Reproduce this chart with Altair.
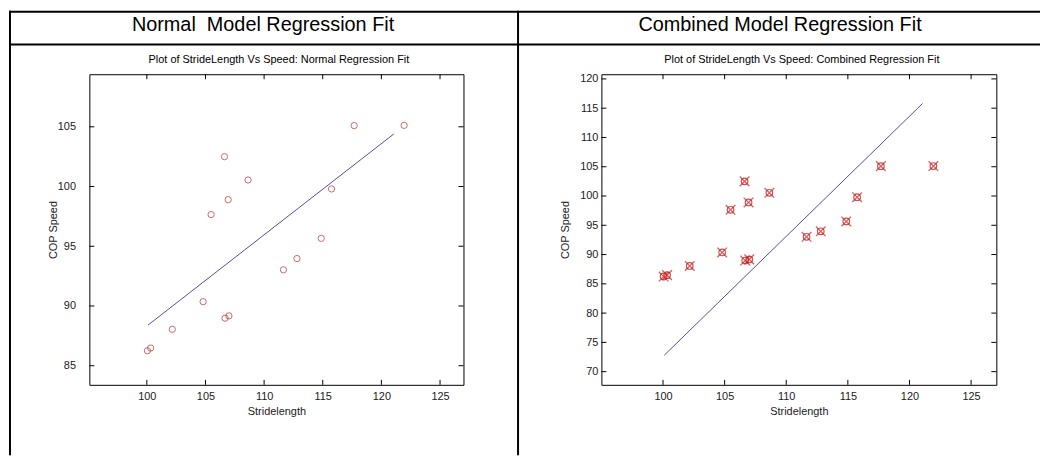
import altair as alt
import pandas as pd

# ---------------- data ----------------
stride = [100.05, 100.33, 102.17, 104.8, 105.48, 106.62, 106.67, 107.0,
          106.94, 108.63, 111.65, 112.8, 114.87, 115.75, 117.68, 121.94]
speed = [86.25, 86.48, 88.05, 90.36, 97.65, 102.5, 88.98, 89.17,
         98.9, 100.55, 93.03, 93.97, 95.66, 99.8, 105.1, 105.12]
fit_x = [100.1, 121.06]
normal_fit = [88.4, 104.4]
combined_fit = [72.8, 115.8]

x_ticks = [100, 105, 110, 115, 120, 125]
y_ticks_normal = [85, 90, 95, 100, 105]
y_ticks_combined = [70, 75, 80, 85, 90, 95, 100, 105, 110, 115, 120]

headers = ["Normal\u00a0 Model Regression Fit", "Combined Model Regression Fit"]
titles = ["Plot of StrideLength Vs Speed: Normal Regression Fit",
          "Plot of StrideLength Vs Speed: Combined Regression Fit"]
x_label = "Stridelength"
y_label = "COP Speed"

# ---------------- layout ----------------
FONT = "Liberation Sans"
W1, W2, H = 377, 398, 313
GAP = 139
RED = "#b52a2a"
BLUE = "#4f4fa3"

pts = pd.DataFrame({"x": stride, "y": speed})
one = pd.DataFrame({"k": [0]})


def panel(w, xdom, ydom, yticks, fit_y, title, title_x, ylab_pad, ytitle_x,
          combined):
    xs = alt.Scale(domain=xdom, nice=False, zero=False)
    ys = alt.Scale(domain=ydom, nice=False, zero=False)
    xaxis = alt.Axis(values=x_ticks, title=x_label, titleX=w / 2, titleY=26.5,
                     titleBaseline="middle", labelPadding=6, ticks=False,
                     tickSize=0, domain=False, grid=False)
    yaxis = alt.Axis(values=yticks, title=y_label, titleX=ytitle_x,
                     titleY=H / 2, titleBaseline="middle",
                     labelPadding=ylab_pad, ticks=False, tickSize=0,
                     domain=False, grid=False)

    def X(f):
        return alt.X(f, scale=xs, axis=xaxis)

    def Y(f):
        return alt.Y(f, scale=ys, axis=yaxis)

    layers = []
    fitdf = pd.DataFrame({"x": fit_x, "y": fit_y})
    layers.append(alt.Chart(fitdf).mark_line(color=BLUE, strokeWidth=1).encode(
        x=X("x:Q"), y=Y("y:Q")))

    if combined:
        layers.append(alt.Chart(pts).mark_point(
            shape="circle", filled=False, size=44, color="#8c1a1a",
            strokeWidth=1.2).encode(x=X("x:Q"), y=Y("y:Q")))
        layers.append(alt.Chart(pts).mark_point(
            shape="M-1,-1L1,1M-1,1L1,-1", filled=False, size=95,
            color="#e01515", strokeWidth=1.3).encode(x=X("x:Q"), y=Y("y:Q")))
    else:
        layers.append(alt.Chart(pts).mark_point(
            shape="circle", filled=False, size=40, color=RED,
            strokeWidth=1).encode(x=X("x:Q"), y=Y("y:Q")))

    ydf = pd.DataFrame({"v": yticks})
    xdf = pd.DataFrame({"v": x_ticks})
    tl = 5
    layers.append(alt.Chart(ydf).mark_rule(color="black", strokeWidth=1).encode(
        y=Y("v:Q"), x=alt.value(0), x2=alt.value(tl)))
    layers.append(alt.Chart(ydf).mark_rule(color="black", strokeWidth=1).encode(
        y=Y("v:Q"), x=alt.value(w - tl), x2=alt.value(w)))
    layers.append(alt.Chart(xdf).mark_rule(color="black", strokeWidth=1).encode(
        x=X("v:Q"), y=alt.value(H), y2=alt.value(H - tl)))
    layers.append(alt.Chart(xdf).mark_rule(color="black", strokeWidth=1).encode(
        x=X("v:Q"), y=alt.value(0), y2=alt.value(tl)))

    layers.append(alt.Chart(one).mark_text(font=FONT, fontSize=11,
                                           color="black", align="center",
                                           baseline="middle").encode(
        x=alt.value(title_x), y=alt.value(-14), text=alt.value(title)))
    return layers


# frame (page coords converted relative to panel 1 view at page (89, 72))
def rect(x1, x2, y1, y2, **kw):
    return alt.Chart(one).mark_rect(**kw).encode(
        x=alt.value(x1), x2=alt.value(x2), y=alt.value(y1), y2=alt.value(y2))


frame = [
    rect(-81, 958, -64, 384, fill="white", opacity=0),
    rect(-81, 958, -64, -62, color="black"),
    rect(-81, 958, -31, -29, color="black"),
    rect(-81, -79, -64, 384, color="black"),
    rect(431, 433, -64, 384, color="black"),
    alt.Chart(one).mark_text(font=FONT, fontSize=20, color="black",
                             align="center", baseline="middle").encode(
        x=alt.value(175), y=alt.value(-50), text=alt.value(headers[0])),
    alt.Chart(one).mark_text(font=FONT, fontSize=20, color="black",
                             align="center", baseline="middle").encode(
        x=alt.value(696), y=alt.value(-50), text=alt.value(headers[1])),
]

p1_layers = panel(W1, [95.1, 127], [83.4, 109.4], y_ticks_normal, normal_fit,
                  titles[0], 191, 14, -36, False)
p2_layers = panel(W2, [95.0, 127.05], [67.75, 120.8], y_ticks_combined,
                  combined_fit, titles[1], 202, 3.5, -36, True)

p1 = alt.layer(*(p1_layers + frame)).properties(width=W1, height=H)
p2 = alt.layer(*p2_layers).properties(width=W2, height=H)

chart = alt.hconcat(p1, p2, spacing=GAP, bounds="flush").properties(
    padding=0, background="white"
).configure_view(stroke="black", strokeWidth=1).configure_axis(
    labelFont=FONT, labelFontSize=11, labelColor="#1a1a1a",
    titleFont=FONT, titleFontSize=11, titleColor="#1a1a1a",
    titleFontWeight="normal"
)

chart.save("out.html", embed_options={"renderer": "svg", "actions": False})
